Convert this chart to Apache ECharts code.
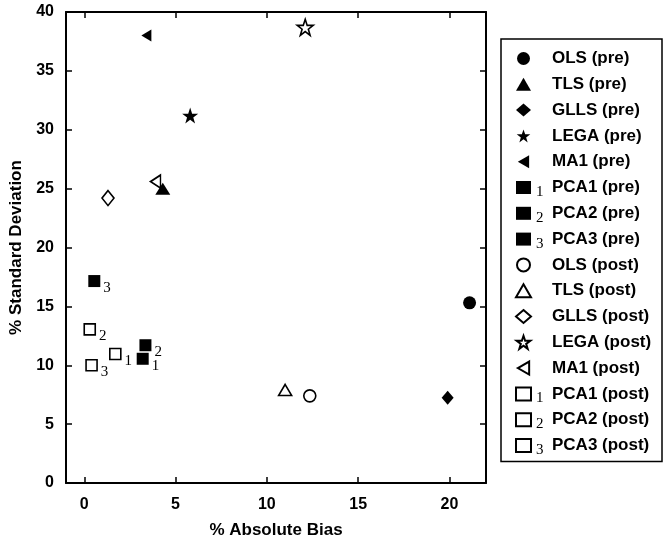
<!DOCTYPE html>
<html>
<head>
<meta charset="utf-8">
<script src="https://cdn.jsdelivr.net/npm/echarts@6/dist/echarts.min.js"></script>
<style>
html,body{margin:0;padding:0;background:#fff;}
#chart{width:666px;height:544px;}
</style>
</head>
<body>
<div id="chart"></div>
<script>
// ---- data ----
const seriesNames = ['OLS (pre)','TLS (pre)','GLLS (pre)','LEGA (pre)','MA1 (pre)','PCA1 (pre)','PCA2 (pre)','PCA3 (pre)',
  'OLS (post)','TLS (post)','GLLS (post)','LEGA (post)','MA1 (post)','PCA1 (post)','PCA2 (post)','PCA3 (post)'];
const absBias = [21.1, 4.3, 19.9, 5.8, 3.4, 3.2, 3.35, 0.55, 12.35, 11.0, 1.3, 12.1, 3.9, 1.7, 0.3, 0.4];
const stdDev  = [15.3, 25.0, 7.25, 31.2, 38.0, 10.55, 11.7, 17.15, 7.4, 7.9, 24.2, 38.7, 25.6, 10.95, 13.05, 10.0];
const subscripts = ['','','','','','1','2','3','','','','','','1','2','3'];
const xTicks = [0, 5, 10, 15, 20];

// ---- styles ----
const STAR = 'path://M50,0 L61.8,35.1 L98.1,35.1 L68.8,56.8 L79.4,91.9 L50,70.2 L20.6,91.9 L31.2,56.8 L1.9,35.1 L38.2,35.1 Z';
const LTRI = 'path://M0,50 L87,0 L87,100 Z';
const shapeOf = ['circle','triangle','diamond',STAR,LTRI,'rect','rect','rect'];
const sizeFilled = [13,[15,12],[12,14],16,[10,12],12,12,12];
const sizeOpen = [12,[13,11],[12,15],16,[10,13],11,11,11];

const series = seriesNames.map(function(name, i){
  const k = i % 8;
  const open = i >= 8;
  return {
    name: name,
    type: 'scatter',
    data: [[absBias[i], stdDev[i]]],
    symbol: shapeOf[k],
    symbolSize: open ? sizeOpen[k] : sizeFilled[k],
    symbolKeepAspect: false,
    itemStyle: open ? {color:'#ffffff', borderColor:'#000000', borderWidth:1.6, opacity:1}
                    : {color:'#000000', borderColor:'#000000', borderWidth:0, opacity:1},
    label: {
      show: subscripts[i] !== '',
      formatter: subscripts[i],
      position: 'right',
      distance: 3,
      offset: [0, 7],
      color: '#000',
      fontFamily: '"Liberation Serif", "Times New Roman", serif',
      fontSize: 15
    },
    emphasis: {disabled: true},
    z: open ? 3 : 2
  };
});

const chart = echarts.init(document.getElementById('chart'), null, {renderer:'canvas'});
const axisFont = {fontFamily:'"Liberation Sans", Arial, sans-serif', fontWeight:'bold', color:'#000'};
const option = {
  backgroundColor: '#ffffff',
  animation: false,
  grid: {left:66, right:180, top:12, bottom:58, containLabel:false},
  xAxis: [{
    type:'value', min:-1, max:22, position:'bottom',
    axisLine:{show:true, onZero:false, lineStyle:{color:'#000', width:2}},
    axisTick:{show:true, inside:true, length:6, lineStyle:{color:'#000', width:1.5}, customValues: xTicks},
    axisLabel:Object.assign({show:true, fontSize:16, margin:14, customValues: xTicks}, axisFont),
    splitLine:{show:false},
    name:'% Absolute Bias', nameLocation:'middle', nameGap:39,
    nameTextStyle:Object.assign({fontSize:17}, axisFont)
  },{
    type:'value', min:-1, max:22, position:'top',
    axisLine:{show:true, onZero:false, lineStyle:{color:'#000', width:2}},
    axisTick:{show:true, inside:true, length:6, lineStyle:{color:'#000', width:1.5}, customValues: xTicks},
    axisLabel:{show:false},
    splitLine:{show:false}
  }],
  yAxis: [{
    type:'value', min:0, max:40, interval:5, position:'left',
    axisLine:{show:true, onZero:false, lineStyle:{color:'#000', width:2}},
    axisTick:{show:true, inside:true, length:6, lineStyle:{color:'#000', width:1.5}},
    axisLabel:Object.assign({show:true, fontSize:16, margin:12}, axisFont),
    splitLine:{show:false},
    name:'% Standard Deviation', nameLocation:'middle', nameGap:38,
    nameTextStyle:Object.assign({fontSize:17}, axisFont)
  },{
    type:'value', min:0, max:40, interval:5, position:'right',
    axisLine:{show:true, onZero:false, lineStyle:{color:'#000', width:2}},
    axisTick:{show:true, inside:true, length:6, lineStyle:{color:'#000', width:1.5}},
    axisLabel:{show:false},
    splitLine:{show:false}
  }],
  legend: {
    show:true,
    orient:'vertical',
    left:501, top:39,
    padding:[11,10,4,14],
    itemWidth:15, itemHeight:13,
    itemGap:5.3,
    borderColor:'#000', borderWidth:1.5,
    backgroundColor:'#fff',
    selectedMode:false,
    data: seriesNames,
    formatter: function(name){
      const i = seriesNames.indexOf(name);
      const s = subscripts[i] || ' ';
      return '{s|' + s + '}{t|' + name + '}';
    },
    textStyle: {
      rich: {
        s: {width:16, fontSize:15, lineHeight:12, verticalAlign:'bottom', color:'#000',
            fontFamily:'"Liberation Serif", "Times New Roman", serif'},
        t: {width:100, fontSize:17, lineHeight:24, verticalAlign:'middle', color:'#000',
            fontWeight:'bold', fontFamily:'"Liberation Sans", Arial, sans-serif'}
      }
    }
  },
  series: series
};
chart.setOption(option);
</script>
</body>
</html>
